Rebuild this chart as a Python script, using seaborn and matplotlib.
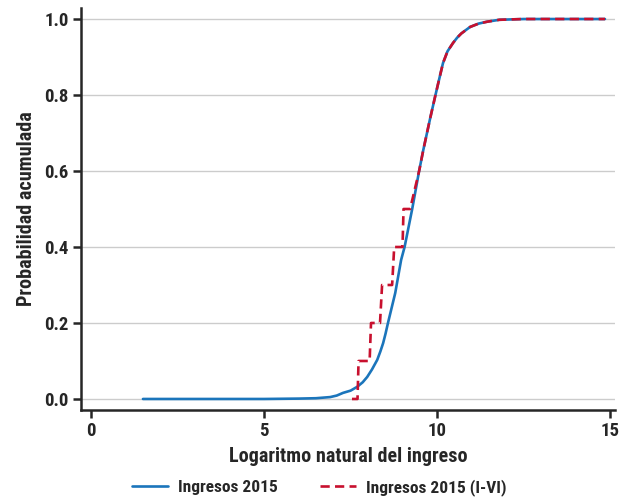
import matplotlib
matplotlib.use('Agg')
import matplotlib.pyplot as plt
import seaborn as sns
import pandas as pd

# Curva acumulada, ingresos 2015
ingreso_x = [1.5, 3.0, 5.0, 6.0, 6.5, 6.91, 7.1, 7.28, 7.5, 7.69, 7.85, 7.98,
             8.12, 8.27, 8.36, 8.44, 8.51, 8.58, 8.79, 8.96, 9.06, 9.28,
             9.48, 9.6, 9.8, 9.94, 10.05, 10.17, 10.3, 10.46, 10.58, 10.7,
             10.95, 11.2, 11.45, 11.8, 12.5, 14.85]
ingreso_y = [0.0, 0.0, 0.0, 0.001, 0.002, 0.005, 0.009, 0.016, 0.022, 0.032,
             0.044, 0.058, 0.078, 0.103, 0.125, 0.147, 0.172, 0.2, 0.279,
             0.366, 0.4, 0.5, 0.6, 0.655, 0.739, 0.795, 0.838, 0.884, 0.915,
             0.937, 0.951, 0.962, 0.979, 0.988, 0.993, 0.998, 1.0, 1.0]

# Curva acumulada, ingresos 2015 (I-VI)
ingreso_vi_x = [7.54, 7.70, 7.73, 8.05, 8.09, 8.35, 8.41, 8.70, 8.76, 9.00,
                9.03, 9.22, 9.48, 9.6, 9.8, 9.94, 10.05, 10.17, 10.3, 10.46,
                10.58, 10.7, 10.95, 11.2, 11.45, 11.8, 12.5, 14.85]
ingreso_vi_y = [0.0, 0.0, 0.1, 0.1, 0.2, 0.2, 0.3, 0.3, 0.4, 0.4,
                0.5, 0.5, 0.6, 0.655, 0.739, 0.795, 0.838, 0.884, 0.915, 0.937,
                0.951, 0.962, 0.979, 0.988, 0.993, 0.998, 1.0, 1.0]

series_names = ['Ingresos 2015', 'Ingresos 2015 (I-VI)']
colors = ['#1b75bb', '#c8102e']

df = pd.concat([
    pd.DataFrame({'x': ingreso_x, 'y': ingreso_y, 'serie': series_names[0]}),
    pd.DataFrame({'x': ingreso_vi_x, 'y': ingreso_vi_y, 'serie': series_names[1]}),
])

sns.set_style('ticks')
plt.rcParams['font.family'] = ['Roboto Condensed', 'DejaVu Sans']
plt.rcParams['font.stretch'] = 'condensed'
plt.rcParams['font.weight'] = 'bold'

fig = plt.figure(figsize=(6.19, 4.97), dpi=100)
ax = fig.add_axes([81 / 619, 1 - 410 / 497, 534 / 619, 402 / 497])

sns.lineplot(data=df, x='x', y='y', hue='serie', style='serie',
             palette=colors, dashes={series_names[0]: '', series_names[1]: (3.5, 2)},
             linewidth=1.9, sort=False, estimator=None, ax=ax)

ax.set_xlim(-0.29, 15.14)
ax.set_ylim(-0.029, 1.029)
ax.set_xticks([0, 5, 10, 15])
ax.set_yticks([0.0, 0.2, 0.4, 0.6, 0.8, 1.0])
ax.set_yticklabels(['0.0', '0.2', '0.4', '0.6', '0.8', '1.0'])
ax.yaxis.grid(True, color='#cccccc', linewidth=1)
ax.set_axisbelow(True)
for s in ['top', 'right']:
    ax.spines[s].set_visible(False)
for s in ['left', 'bottom']:
    ax.spines[s].set_linewidth(1.8)
ax.tick_params(axis='both', width=1.8, length=6, labelsize=13.5, direction='out', pad=3)
for lab in ax.get_xticklabels() + ax.get_yticklabels():
    lab.set_fontweight('bold')

ax.set_xlabel('Logaritmo natural del ingreso', fontsize=14.5, fontweight='bold', labelpad=5)
ax.set_ylabel('Probabilidad acumulada', fontsize=14.5, fontweight='bold', labelpad=6)

handles, labels = ax.get_legend_handles_labels()
ax.legend_.remove()
fig.legend(handles, labels, loc='center', bbox_to_anchor=(0.516, 0.02),
           ncol=2, frameon=False, columnspacing=2.4, handletextpad=0.58,
           handlelength=2.08, prop={'weight': 'bold', 'size': 12.5})

fig.savefig('out.png', dpi=100)
